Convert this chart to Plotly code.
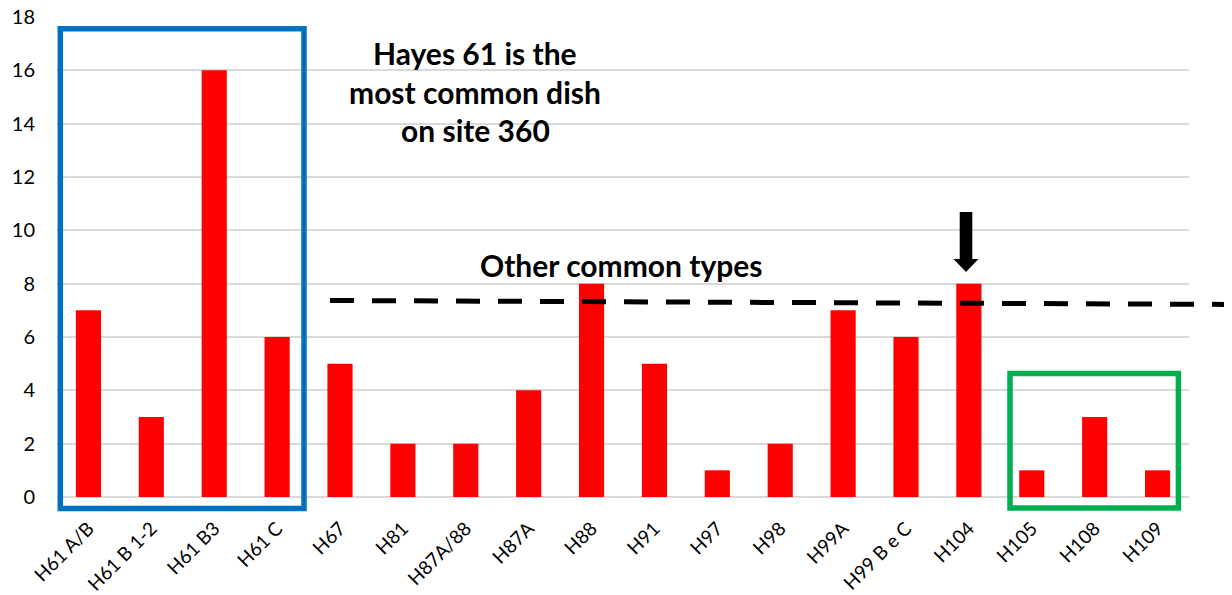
import plotly.graph_objects as go

categories = ["H61 A/B", "H61 B 1-2", "H61 B3", "H61 C", "H67", "H81", "H87A/88",
              "H87A", "H88", "H91", "H97", "H98", "H99A", "H99 B e C", "H104",
              "H105", "H108", "H109"]
counts = [7, 3, 16, 6, 5, 2, 2, 4, 8, 5, 1, 2, 7, 6, 8, 1, 3, 1]
y_ticks = [0, 2, 4, 6, 8, 10, 12, 14, 16, 18]

OFF = 8  # page body margin
W, H = 1232, 595
ML, MT = 57 - OFF, 17 - OFF
MR = W - (1189 - OFF)
MB = H - (497 - OFF)
PW = W - ML - MR
PH = H - MT - MB


def px_x(p):
    return (p - OFF - ML) / PW


def px_y(p):
    return (H - MB - (p - OFF)) / PH


FONT = "Lato"

fig = go.Figure()
fig.add_trace(go.Bar(x=categories, y=counts, marker=dict(color="#FF0000", line=dict(width=0)),
                     width=0.4, showlegend=False))

shapes = []
# blue box
shapes.append(dict(type="rect", xref="paper", yref="paper",
                   x0=px_x(60.3), x1=px_x(304), y0=px_y(508.5), y1=px_y(28.7),
                   line=dict(color="#0070C0", width=5.5)))
# green box
shapes.append(dict(type="rect", xref="paper", yref="paper",
                   x0=px_x(1010), x1=px_x(1178.4), y0=px_y(508), y1=px_y(373.5),
                   line=dict(color="#00B050", width=5.5)))
# dashed line
shapes.append(dict(type="line", xref="paper", yref="paper",
                   x0=px_x(330), x1=px_x(1245), y0=px_y(300.5), y1=px_y(304.5),
                   line=dict(color="black", width=5, dash="24px,18px")))
# arrow
ax, top, hs, tip, sw, hw = 966, 212, 259, 272, 6.3, 12.5
path = (f"M {px_x(ax-sw)},{px_y(top)} L {px_x(ax+sw)},{px_y(top)} L {px_x(ax+sw)},{px_y(hs)} "
        f"L {px_x(ax+hw)},{px_y(hs)} L {px_x(ax)},{px_y(tip)} L {px_x(ax-hw)},{px_y(hs)} "
        f"L {px_x(ax-sw)},{px_y(hs)} Z")
shapes.append(dict(type="path", xref="paper", yref="paper", path=path,
                   fillcolor="black", line=dict(width=0)))

annotations = []
for txt, yc in [("Hayes 61 is the", 53), ("most common dish", 92), ("on site 360", 130)]:
    annotations.append(dict(text=f"<b>{txt}</b>", xref="paper", yref="paper",
                            x=px_x(475), y=px_y(yc), xanchor="center", yanchor="middle",
                            showarrow=False, font=dict(family=FONT, size=30, color="black")))
annotations.append(dict(text="<b>Other common types</b>", xref="paper", yref="paper",
                        x=px_x(621), y=px_y(265), xanchor="center", yanchor="middle",
                        showarrow=False, font=dict(family=FONT, size=30, color="black")))

fig.update_layout(
    width=W, height=H,
    margin=dict(l=ML, r=MR, t=MT, b=MB, pad=0, autoexpand=False),
    paper_bgcolor="white", plot_bgcolor="white",
    font=dict(family=FONT, size=20, color="black"),
    bargap=0.6,
    shapes=shapes,
    annotations=annotations,
    xaxis=dict(type="category", tickangle=-45, showgrid=False, showline=False,
               automargin=False, ticklabeloverflow="allow",
               ticks="outside", ticklen=12, tickcolor="rgba(0,0,0,0)",
               tickfont=dict(family=FONT, size=19, color="black")),
    yaxis=dict(range=[0, 18], tickvals=y_ticks, showgrid=True, gridcolor="#D9D9D9",
               gridwidth=1.5, zeroline=True, zerolinecolor="#D9D9D9", zerolinewidth=1.5,
               automargin=False, ticklabeloverflow="allow",
               showline=False, ticks="outside", ticklen=17, tickcolor="rgba(0,0,0,0)",
               tickfont=dict(family=FONT, size=20, color="black")),
)

fig.write_html("out.html")
